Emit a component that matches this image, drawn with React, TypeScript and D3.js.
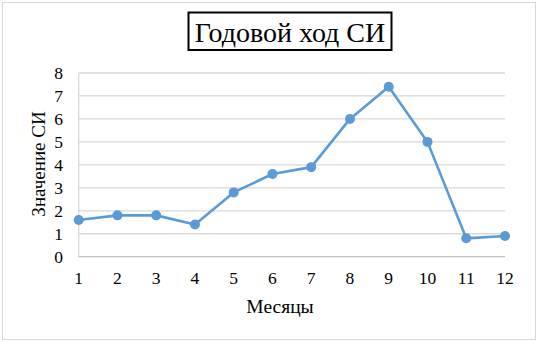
import React from "react";
import * as d3 from "d3";

const months = [1, 2, 3, 4, 5, 6, 7, 8, 9, 10, 11, 12];
const values = [1.6, 1.8, 1.8, 1.4, 2.8, 3.6, 3.9, 6.0, 7.4, 5.0, 0.8, 0.9];
const yTicks = [0, 1, 2, 3, 4, 5, 6, 7, 8];
const title = "Годовой ход СИ";
const xTitle = "Месяцы";
const yTitle = "Значение СИ";

const W = 538, H = 342;
const font = '"Times New Roman", "Liberation Serif", serif';

export default function App() {
  const x = d3.scalePoint<number>().domain(months).range([78.7, 505]);
  const y = d3.scaleLinear().domain([0, 8]).range([256.7, 73]);
  const line = d3.line<number>().x((_, i) => x(months[i])!).y((d) => y(d));
  const ts = { fontFamily: font };
  return (
    <svg width={W} height={H} style={{ position: "absolute", left: 0, top: 0 }}>
      <rect x={0} y={0} width={W} height={H} fill="#fff" />
      <rect x={2.5} y={2.5} width={533} height={337} fill="none" stroke="#d9d9d9" strokeWidth={1} />
      <rect x={188.5} y={12.5} width={203} height={37.5} fill="#fff" stroke="#000" strokeWidth={2} />
      <text x={290} y={41.5} textAnchor="middle" fontSize={28} fill="#000" style={ts}>{title}</text>
      {yTicks.map((t) => (
        <g key={t}>
          {t > 0 && <line x1={78.7} x2={505} y1={y(t)} y2={y(t)} stroke="#d9d9d9" strokeWidth={1.3} />}
          <text x={63} y={y(t) + 6} textAnchor="end" fontSize={17.5} fill="#000" style={ts}>{t}</text>
        </g>
      ))}
      <line x1={78.7} x2={78.7} y1={y(8)} y2={y(0)} stroke="#d9d9d9" strokeWidth={1.3} />
      <line x1={78.7} x2={505} y1={y(0)} y2={y(0)} stroke="#bfbfbf" strokeWidth={1.3} />
      {months.map((m) => (
        <text key={m} x={x(m)!} y={284} textAnchor="middle" fontSize={17.5} fill="#000" style={ts}>{m}</text>
      ))}
      <text x={280} y={312.5} textAnchor="middle" fontSize={19.5} fill="#000" style={ts}>{xTitle}</text>
      <text transform={`translate(45,164) rotate(-90)`} textAnchor="middle" fontSize={19} fill="#000" style={ts}>{yTitle}</text>
      <path d={line(values)!} fill="none" stroke="#5b9bd5" strokeWidth={2.6} strokeLinejoin="round" />
      {values.map((v, i) => (
        <circle key={i} cx={x(months[i])!} cy={y(v)} r={5} fill="#5b9bd5" />
      ))}
    </svg>
  );
}
